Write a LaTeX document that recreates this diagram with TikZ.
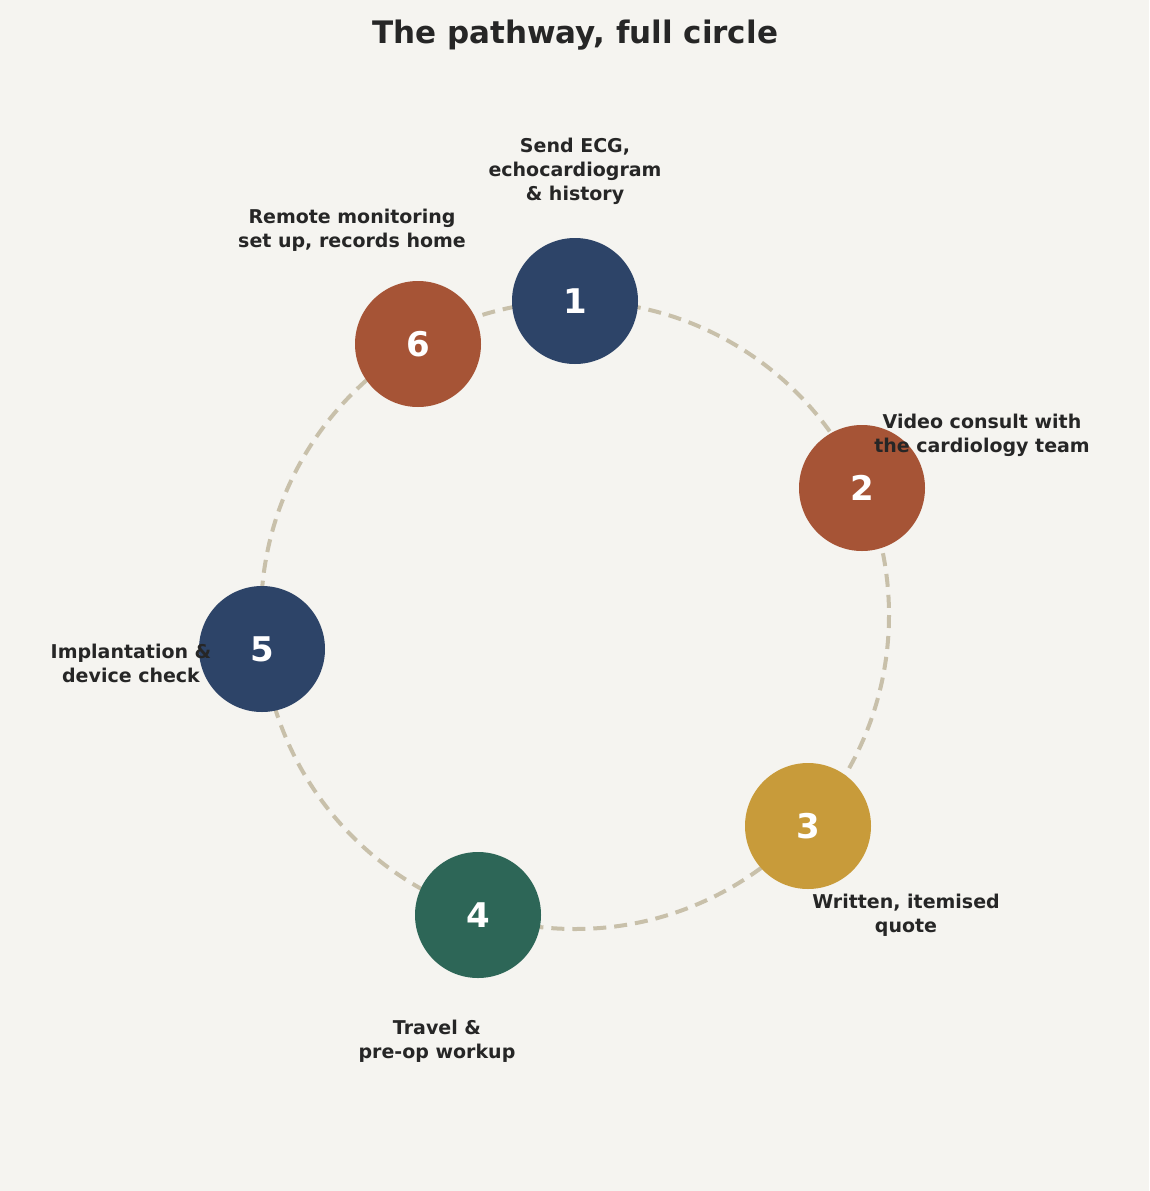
\documentclass[tikz,border=0pt]{standalone}
\usepackage{fontspec}
\setmainfont{DejaVu Sans}
\begin{document}
\begin{tikzpicture}[x=1pt,y=-1pt,
  stepnode/.style={circle,minimum size=126pt,inner sep=0pt,text=white,font=\bfseries\fontsize{34}{36}\selectfont},
  lbl/.style={align=center,text=black!85,font=\bfseries\fontsize{19}{24}\selectfont}]
\fill[fill={rgb,255:red,245;green,244;blue,240}] (0,0) rectangle (1149,1191);
\useasboundingbox (0,0) rectangle (1149,1191);
\definecolor{navy}{HTML}{2D4468}\definecolor{rust}{HTML}{A65436}
\definecolor{gold}{HTML}{C89B3A}\definecolor{teal}{HTML}{2D6657}
\definecolor{ring}{HTML}{C8C0AA}
\node[font=\bfseries\fontsize{31}{36}\selectfont,text=black!85] (t) at (575,35) {The pathway, full circle};
\draw[ring,line width=4pt,dash pattern=on 13pt off 8pt] (575,615) circle[radius=314];
\node[stepnode,fill=navy] (n1) at (575,301) {1};
\node[stepnode,fill=rust] (n2) at (862,488) {2};
\node[stepnode,fill=gold] (n3) at (808,826) {3};
\node[stepnode,fill=teal] (n4) at (478,915) {4};
\node[stepnode,fill=navy] (n5) at (262,649) {5};
\node[stepnode,fill=rust] (n6) at (418,344) {6};
\node[lbl] (l1) at (575,171) {Send ECG,\\echocardiogram\\\& history};
\node[lbl] (l2) at (982,435) {Video consult with\\the cardiology team};
\node[lbl] (l3) at (906,915) {Written, itemised\\quote};
\node[lbl] (l4) at (437,1041) {Travel \&\\pre-op workup};
\node[lbl] (l5) at (131,663) {Implantation \&\\device check};
\node[lbl] (l6) at (352,230) {Remote monitoring\\set up, records home};
\end{tikzpicture}
\end{document}
